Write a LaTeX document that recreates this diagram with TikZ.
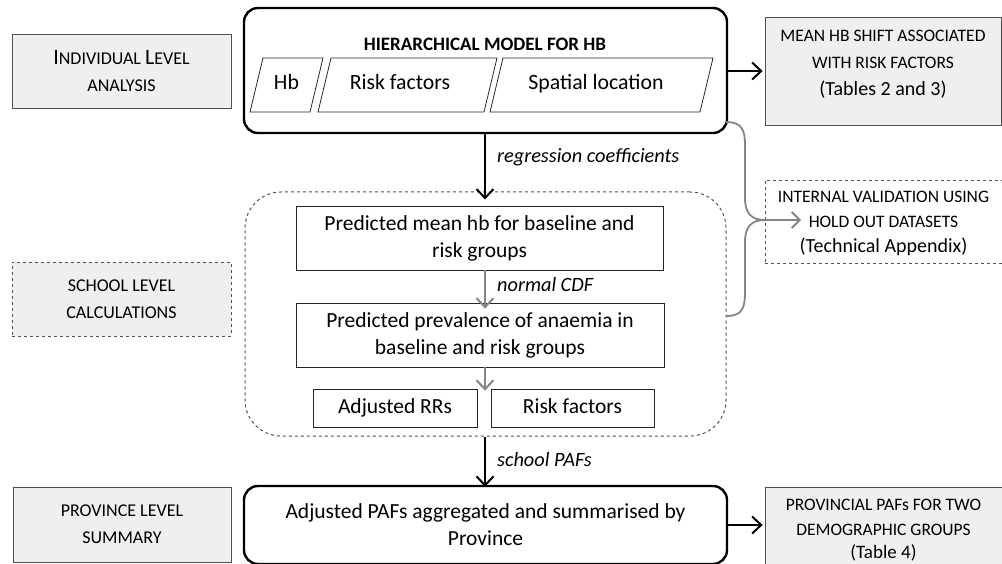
\documentclass[tikz,border=0pt]{standalone}
\usepackage{fontspec}
\setmainfont{Carlito}
\usetikzlibrary{arrows.meta}
\definecolor{boxgray}{HTML}{EFEFEF}
\definecolor{edgegray}{HTML}{505050}
\definecolor{arrgray}{HTML}{858585}
\newcommand\BigC[1]{{\fontsize{22}{24}\selectfont #1}}
\tikzset{
  lbl/.style={draw=edgegray, line width=0.8pt, fill=boxgray, inner sep=0pt, align=center, font=\fontsize{18}{27}\selectfont},
  boxonly/.style={draw=edgegray, line width=0.8pt, inner sep=0pt},
  outtext/.style={inner sep=0pt, align=center, font=\fontsize{17.5}{27}\selectfont},
  bigbox/.style={draw=black, line width=2.4pt, rounded corners=14pt, inner sep=0pt, align=center, font=\fontsize{21.5}{27}\selectfont},
  stepbox/.style={draw=black!85, line width=0.8pt, inner sep=0pt, align=center, font=\fontsize{21.5}{27}\selectfont},
  oneline/.style={text height=15pt, text depth=5pt},
  para/.style={draw=black!85, line width=0.8pt},
  paratext/.style={inner sep=0pt, text height=15pt, text depth=5pt, font=\fontsize{21.8}{24}\selectfont},
  blackarrow/.style={-{Straight Barb[length=9pt,width=17pt,line width=2pt]}, line width=2pt, black},
  grayarrow/.style={-{Straight Barb[length=9pt,width=17pt,line width=2pt]}, line width=2pt, arrgray},
  arrlabel/.style={anchor=west, inner sep=0pt, font=\fontsize{20.3}{22}\selectfont\itshape},
}
\begin{document}
\begin{tikzpicture}[x=1pt,y=-1pt]
\useasboundingbox (0,0) rectangle (1002,564);

% left labels
\node[lbl, minimum width=219pt, minimum height=74pt] (indiv) at (121.5,71)
  {\BigC{I}NDIVIDUAL \BigC{L}EVEL\\ANALYSIS};
\node[lbl, dashed, minimum width=219pt, minimum height=74pt] (school) at (121.5,299)
  {SCHOOL LEVEL\\CALCULATIONS};
\node[lbl, minimum width=218pt, minimum height=75pt] (prov) at (122,524.5)
  {PROVINCE LEVEL\\SUMMARY};

% main model box
\node[bigbox, minimum width=483pt, minimum height=125pt] (model) at (485.5,70.5) {};
\node[inner sep=0pt, font=\fontsize{19}{22}\selectfont\bfseries] (title) at (485,44) {HIERARCHICAL MODEL FOR HB};
\draw[para] (250,112) -- (263,58) -- (323,58) -- (310,112) -- cycle;
\node[paratext] (hb) at (286.5,85) {Hb};
\draw[para] (318,112) -- (331,58) -- (497,58) -- (484,112) -- cycle;
\node[paratext] (rf) at (400,85) {Risk factors};
\draw[para] (490,112) -- (503,58) -- (713,58) -- (700,112) -- cycle;
\node[paratext] (sl) at (596,85) {Spatial location};

% right outputs
\node[boxonly, fill=boxgray, minimum width=236pt, minimum height=108pt] (meanhb) at (883,71) {};
\node[outtext] (meanhbtxt) at (883,64.5)
  {MEAN HB SHIFT ASSOCIATED\\WITH RISK FACTORS\\{\fontsize{20}{22}\selectfont(Tables 2 and 3)}};
\node[boxonly, dashed, minimum width=237pt, minimum height=83pt] (valid) at (883.5,221.5) {};
\node[outtext, font=\fontsize{17.5}{25}\selectfont] (validtxt) at (883.5,223.5)
  {INTERNAL VALIDATION USING\\HOLD OUT DATASETS\\{\fontsize{20}{22}\selectfont(Technical Appendix)}};
\node[boxonly, fill=boxgray, minimum width=237pt, minimum height=77pt] (provpaf) at (883.5,525.5) {};
\node[outtext, font=\fontsize{17.5}{25}\selectfont] (provpaftxt) at (883.5,530)
  {PROVINCIAL PAFs FOR TWO\\DEMOGRAPHIC GROUPS\\[-2pt]{\fontsize{19}{21}\selectfont(Table 4)}};

% school-level container
\node[draw=edgegray, line width=1pt, dashed, rounded corners=36pt, inner sep=0pt,
  minimum width=481pt, minimum height=244pt] (container) at (485.5,314) {};
\node[stepbox, minimum width=367pt, minimum height=64pt] (mean) at (479.5,238)
  {Predicted mean hb for baseline and\\risk groups};
\node[stepbox, minimum width=368pt, minimum height=64pt] (prev) at (480,335)
  {Predicted prevalence of anaemia in\\baseline and risk groups};
\node[stepbox, oneline, minimum width=164pt, minimum height=38pt] (rr) at (395,408) {Adjusted RRs};
\node[stepbox, oneline, minimum width=163pt, minimum height=38pt] (rf2) at (572.5,408) {Risk factors};

% bottom summary box
\node[bigbox, minimum width=483pt, minimum height=78pt] (summary) at (485.5,525)
  {Adjusted PAFs aggregated and summarised by\\Province};

% connectors
\draw[blackarrow] (model.south -| 485,0) -- ([yshift=-8pt]container.north -| 485,0);
\node[arrlabel] (lreg) at (497,157) {regression coefficients};
\draw[grayarrow] (mean.south -| 485,0) -- ([yshift=-6pt]prev.north -| 485,0);
\node[arrlabel] (lcdf) at (497,285) {normal CDF};
\draw[grayarrow] (prev.south -| 485,0) -- ([yshift=-2pt]rr.north -| 485,0);
\draw[blackarrow] (container.south -| 485,0) -- ([yshift=-2pt]summary.north -| 485,0);
\node[arrlabel] (lpaf) at (497,460) {school PAFs};
\draw[blackarrow] (model.east |- meanhb.west) -- ([xshift=-2pt]meanhb.west);
\draw[blackarrow] (summary.east) -- ([xshift=-2pt]summary.east -| provpaf.west);

% validation brace
\coordinate (vtip) at (801,220);
\draw[arrgray, line width=1.8pt] (726,122) .. controls (742,122) and (745,130) .. (745,145)
  -- (745,198) .. controls (745,214) and (752,220) .. (765,220);
\draw[arrgray, line width=1.8pt] (container.east |- 0,316) .. controls (742,316) and (745,308) .. (745,293)
  -- (745,242) .. controls (745,226) and (752,220) .. (765,220);
\draw[-{Straight Barb[length=8pt,width=16pt,line width=1.8pt]}, arrgray, line width=1.8pt] (764,220) -- (vtip);
\end{tikzpicture}
\end{document}
